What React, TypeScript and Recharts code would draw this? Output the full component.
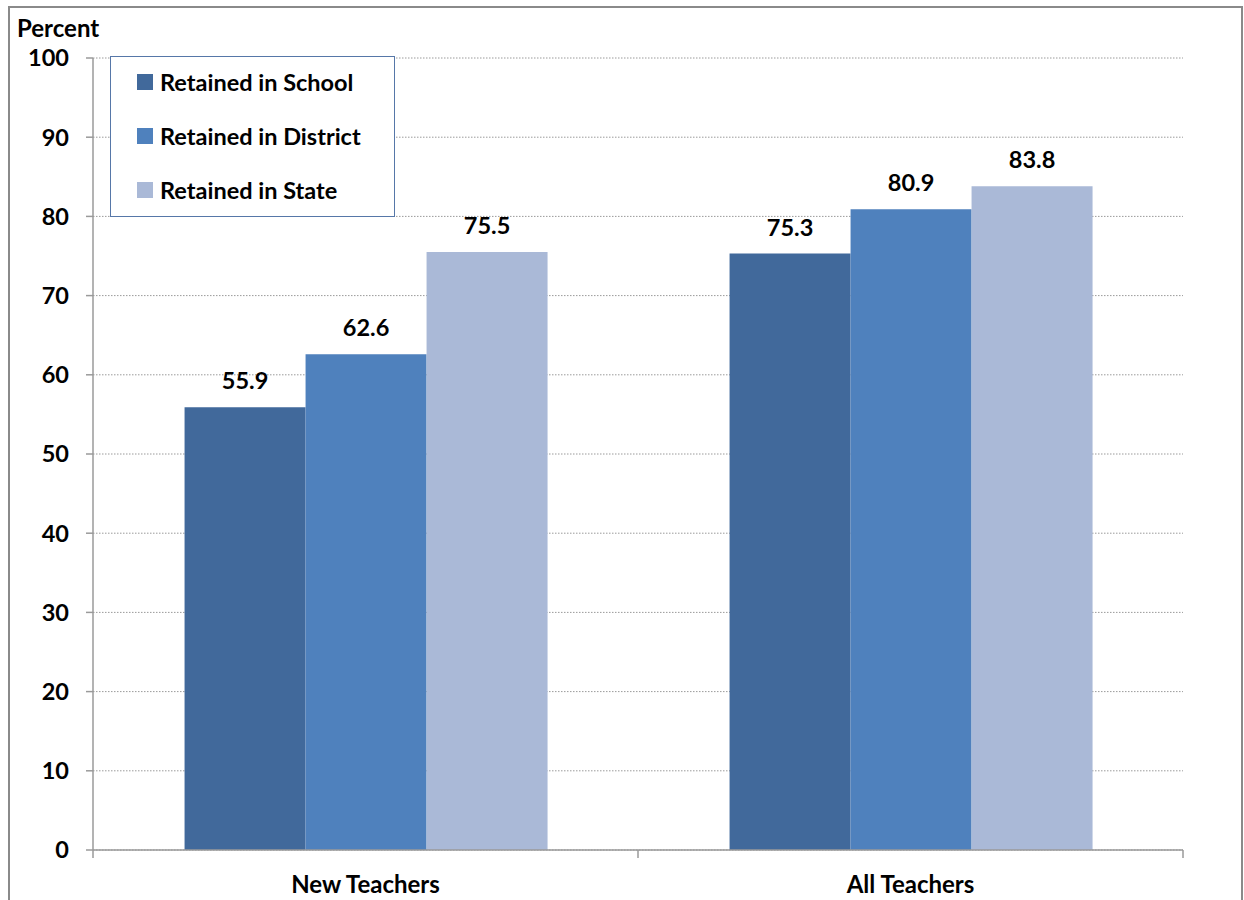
import React from 'react';
import { BarChart, Bar, XAxis, YAxis, CartesianGrid, Legend, LabelList } from 'recharts';

const categories = ['New Teachers', 'All Teachers'];
const retainedSchool = [55.9, 75.3];
const retainedDistrict = [62.6, 80.9];
const retainedState = [75.5, 83.8];
const yTicks = [0, 10, 20, 30, 40, 50, 60, 70, 80, 90, 100];

const seriesNames = ['Retained in School', 'Retained in District', 'Retained in State'];
const seriesKeys = ['school', 'district', 'state'];
const seriesColors = ['#41699B', '#4F81BD', '#AAB9D7'];

const data = categories.map((c, i) => ({
  category: c,
  school: retainedSchool[i],
  district: retainedDistrict[i],
  state: retainedState[i],
}));

const FONT = 'Lato, "Open Sans", sans-serif';

const CategoryTick = (props: any) => {
  const { x, y, payload, index, visibleTicksCount } = props;
  const half = payload && payload.offset ? payload.offset : 0;
  const top = y - 20;
  const isLast = index === (visibleTicksCount ?? categories.length) - 1;
  return (
    <g>
      <line x1={x - half} x2={x - half} y1={top} y2={top + 8} stroke="#9a9a9a" strokeWidth={1.5} />
      {isLast && (
        <line x1={x + half} x2={x + half} y1={top} y2={top + 8} stroke="#9a9a9a" strokeWidth={1.5} />
      )}
      <text x={x} y={y} dy={23} textAnchor="middle" fill="#000" fontFamily={FONT} fontWeight={700} fontSize={24}>
        {payload.value}
      </text>
    </g>
  );
};

const LegendBox = () => (
  <div
    style={{
      width: 285,
      height: 161,
      border: '1.5px solid #5677A8',
      background: '#fff',
      boxSizing: 'border-box',
      position: 'relative',
      fontFamily: FONT,
      fontWeight: 700,
      fontSize: 23.5,
      color: '#000',
    }}
  >
    {seriesNames.map((name, i) => (
      <div
        key={name}
        style={{
          position: 'absolute',
          left: 26,
          top: 11 + i * 54,
          height: 28,
          display: 'flex',
          alignItems: 'center',
          whiteSpace: 'nowrap',
        }}
      >
        <span style={{ display: 'inline-block', width: 16, height: 16, background: seriesColors[i], marginRight: 7 }} />
        <span>{name}</span>
      </div>
    ))}
  </div>
);

export default function App() {
  return (
    <div style={{ position: 'absolute', left: 0, top: 0, width: 1244, height: 900, background: '#fff', overflow: 'hidden' }}>
      <div
        style={{
          position: 'absolute',
          left: 8,
          top: 6,
          width: 1235,
          height: 910,
          border: '2px solid #8a8a8a',
          boxSizing: 'border-box',
        }}
      />
      <div
        style={{
          position: 'absolute',
          left: 17,
          top: 13,
          fontFamily: FONT,
          fontWeight: 700,
          fontSize: 24,
          color: '#000',
          lineHeight: '30px',
        }}
      >
        Percent
      </div>
      <div style={{ position: 'absolute', left: 0, top: 0 }}>
        <BarChart
          width={1244}
          height={900}
          data={data}
          margin={{ top: 58, right: 61, bottom: 10, left: 0 }}
          barCategoryGap="16.8%"
          barGap={0}
        >
          <CartesianGrid vertical={false} stroke="#9a9a9a" strokeDasharray="1.5 1.5" />
          <XAxis
            dataKey="category"
            height={40}
            tickLine={false}
            tickSize={8}
            tickMargin={12}
            axisLine={{ stroke: '#9a9a9a', strokeWidth: 1.5 }}
            tick={<CategoryTick />}
            interval={0}
          />
          <YAxis
            width={93}
            domain={[0, 100]}
            ticks={yTicks}
            interval={0}
            tickSize={7}
            tickMargin={17}
            axisLine={{ stroke: '#9a9a9a', strokeWidth: 1.5 }}
            tickLine={{ stroke: '#9a9a9a', strokeWidth: 1.5 }}
            tick={{ fill: '#000', fontFamily: FONT, fontWeight: 700, fontSize: 23.5 }}
          />
          <Legend
            layout="vertical"
            align="center"
            verticalAlign="middle"
            wrapperStyle={{ position: 'absolute', left: 110, top: 56, width: 285, height: 161 }}
            content={<LegendBox />}
          />
          {seriesKeys.map((k, i) => (
            <Bar key={k} dataKey={k} name={seriesNames[i]} fill={seriesColors[i]} isAnimationActive={false}>
              <LabelList
                dataKey={k}
                position="top"
                offset={18}
                fill="#000"
                fontFamily={FONT}
                fontWeight={700}
                fontSize={23.5}
                formatter={(v: any) => Number(v).toFixed(1)}
              />
            </Bar>
          ))}
        </BarChart>
      </div>
    </div>
  );
}
